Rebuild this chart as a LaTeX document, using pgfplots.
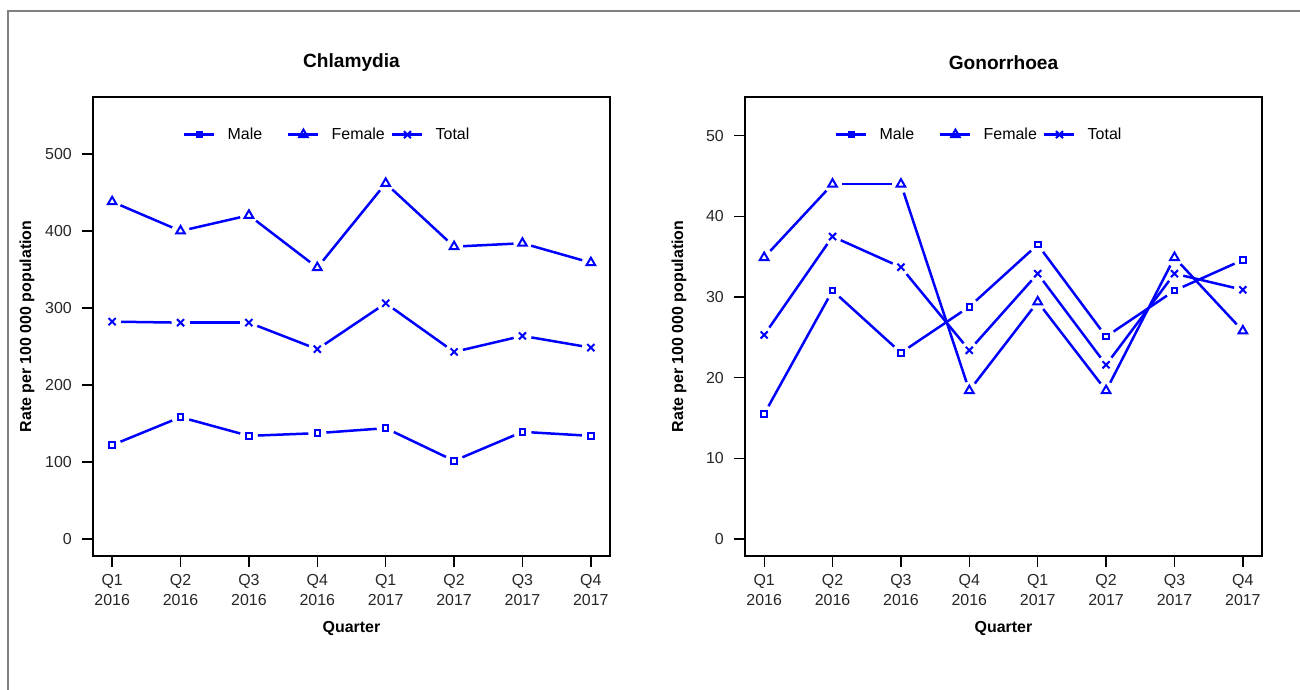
\documentclass[border=0pt]{standalone}
\usepackage{pgfplots}
\usepackage{pgfplotstable}
\pgfplotsset{compat=1.18}
\usepackage{fontspec}
\setmainfont{Liberation Sans}

\pgfplotstableread{
x m f t
0 122.0 438.0 282.3
1 158.3 400.0 281.0
2 134.0 420.4 281.0
3 137.5 352.4 246.5
4 144.0 461.9 306.2
5 101.6 379.7 243.0
6 139.2 384.1 263.8
7 134.0 358.9 248.6
}\chl

\pgfplotstableread{
x m f t
0 15.5 34.9 25.3
1 30.8 44.0 37.5
2 23.1 44.0 33.7
3 28.8 18.4 23.4
4 36.5 29.4 32.9
5 25.1 18.4 21.6
6 30.8 34.9 32.9
7 34.6 25.8 30.9
}\gon

\pgfplotstablecreatecol[create col/expr={\prevrow{m}-\thisrow{m}}]{dm}\chl
\pgfplotstablecreatecol[create col/expr={\prevrow{f}-\thisrow{f}}]{df}\chl
\pgfplotstablecreatecol[create col/expr={\prevrow{t}-\thisrow{t}}]{dt}\chl
\pgfplotstablecreatecol[create col/expr={\prevrow{m}-\thisrow{m}}]{dm}\gon
\pgfplotstablecreatecol[create col/expr={\prevrow{f}-\thisrow{f}}]{df}\gon
\pgfplotstablecreatecol[create col/expr={\prevrow{t}-\thisrow{t}}]{dt}\gon

\definecolor{rblue}{RGB}{0,0,255}
\definecolor{framegray}{RGB}{128,128,128}

\pgfplotsset{
  seg/.style={rblue, line width=2.5bp, no markers, forget plot,
    skip coords between index={0}{1},
    quiver={u=-1, v=\thisrow{#1},
      every arrow/.append style={-, line width=2.5bp, rblue, shorten <=9bp, shorten >=9bp}}},
  mk/.style={rblue, only marks, forget plot, mark options={line width=2bp, solid}},
  msq/.style={mark=square, mark size=2.8bp},
  mtr/.style={mark=triangle, mark size=5bp},
  mx/.style={mark=x, mark size=5bp},
  myax/.style={
    scale only axis, width=517bp, height=459bp,
    axis line style={line width=1.3bp, black},
    every tick/.style={line width=1.3bp, black},
    tick align=outside, major tick length=11bp, tick pos=left,
    xmin=-0.28, xmax=7.28,
    xtick={0,...,7},
    xticklabels={{Q1\\2016},{Q2\\2016},{Q3\\2016},{Q4\\2016},{Q1\\2017},{Q2\\2017},{Q3\\2017},{Q4\\2017}},
    ticklabel style={font=\fontsize{16}{20}\selectfont, text=black!85},
    xticklabel style={align=center, anchor=north, inner sep=0pt, yshift=-7bp},
    yticklabel style={anchor=east, inner sep=0pt, xshift=-10bp},
    /pgf/number format/assume math mode=true,
    title style={font=\fontsize{19.2}{22}\selectfont\bfseries, at={(axis description cs:0.5,1.061)}, anchor=center},
    xlabel={Quarter},
    ylabel={Rate per 100 000 population},
    label style={font=\fontsize{16}{19}\selectfont\bfseries},
    xlabel style={at={(axis description cs:0.5,-0.157)}, anchor=center},
    ylabel style={at={(axis description cs:-0.1277,0.5)}, anchor=center},
    legend style={draw=none, fill=none, inner sep=0pt, row sep=0pt, column sep=0pt,
      nodes={inner sep=0pt, font=\fontsize{16}{19}\selectfont},
      at={(axis description cs:0.1741,0.918)}, anchor=west},
    legend columns=3,
    legend image code/.code={\draw[mark repeat=2, mark phase=2, #1] plot coordinates {(0bp,0bp) (15bp,0bp) (30bp,0bp)};},
  }
}

\begin{document}
\begin{tikzpicture}
\useasboundingbox (0,0) rectangle (1300bp,690bp);
\draw[framegray, line width=2bp] (8bp,0bp) -- (8bp,679bp) -- (1300bp,679bp);

\begin{axis}[myax, at={(93bp,134bp)}, anchor=south west,
  title={Chlamydia}, ymin=-22, ymax=574, ytick={0,100,...,500}]
\addlegendimage{rblue, line width=2.5bp, msq, mark options={line width=2bp}}
\addlegendentry{\hspace{12bp}\makebox[59.5bp][l]{Male}}
\addlegendimage{rblue, line width=2.5bp, mtr, mark options={line width=2bp}}
\addlegendentry{\hspace{12bp}\makebox[59.5bp][l]{Female}}
\addlegendimage{rblue, line width=2.5bp, mx, mark options={line width=2bp}}
\addlegendentry{\hspace{12bp}\makebox[59.5bp][l]{Total}}
\addplot[seg=dm] table[x=x, y=m] {\chl};
\addplot[mk, msq] table[x=x, y=m] {\chl};
\addplot[seg=df] table[x=x, y=f] {\chl};
\addplot[mk, mtr] table[x=x, y=f] {\chl};
\addplot[seg=dt] table[x=x, y=t] {\chl};
\addplot[mk, mx] table[x=x, y=t] {\chl};
\end{axis}

\begin{axis}[myax, at={(745bp,134bp)}, anchor=south west,
  title={Gonorrhoea}, ymin=-2.1, ymax=54.8, ytick={0,10,...,50}]
\addlegendimage{rblue, line width=2.5bp, msq, mark options={line width=2bp}}
\addlegendentry{\hspace{12bp}\makebox[59.5bp][l]{Male}}
\addlegendimage{rblue, line width=2.5bp, mtr, mark options={line width=2bp}}
\addlegendentry{\hspace{12bp}\makebox[59.5bp][l]{Female}}
\addlegendimage{rblue, line width=2.5bp, mx, mark options={line width=2bp}}
\addlegendentry{\hspace{12bp}\makebox[59.5bp][l]{Total}}
\addplot[seg=dm] table[x=x, y=m] {\gon};
\addplot[mk, msq] table[x=x, y=m] {\gon};
\addplot[seg=df] table[x=x, y=f] {\gon};
\addplot[mk, mtr] table[x=x, y=f] {\gon};
\addplot[seg=dt] table[x=x, y=t] {\gon};
\addplot[mk, mx] table[x=x, y=t] {\gon};
\end{axis}
\end{tikzpicture}
\end{document}
